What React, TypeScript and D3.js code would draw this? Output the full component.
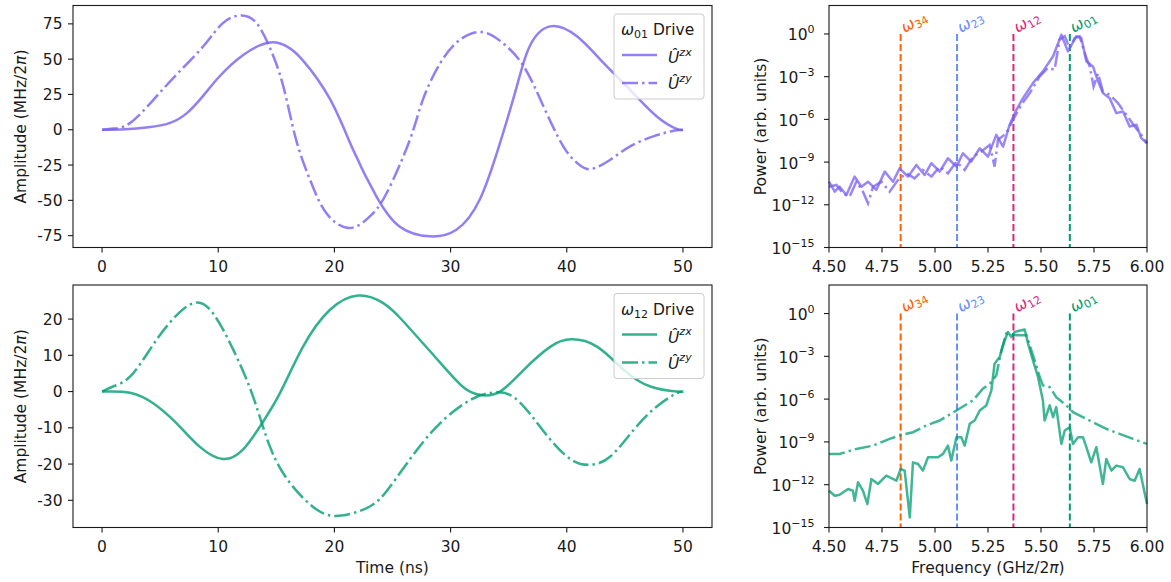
import React from 'react';
import * as d3 from 'd3';

// ---------- tick values ----------
const TIME_TICKS = [0, 10, 20, 30, 40, 50];
const AMP01_TICKS = [-75, -50, -25, 0, 25, 50, 75];
const AMP12_TICKS = [-30, -20, -10, 0, 10, 20];
const FREQ_TICKS = [4.5, 4.75, 5.0, 5.25, 5.5, 5.75, 6.0];
const POW_EXP_TICKS = [0, -3, -6, -9, -12, -15];

// ---------- ω01 drive (time domain) ----------
const t01zx = [0, 2, 4, 5.8, 7.3, 8.7, 10.1, 12.15, 14.45, 16, 17.3, 19.6, 21.6, 23.6, 25.6, 28.2, 30.5, 32.5, 34.25, 35.7, 36.8, 38.56, 40.9, 43.2, 45.45, 47.75, 49.5, 50];
const v01zx = [0, 0.3, 1.8, 4.7, 11.8, 24, 37.7, 53, 61.8, 58.5, 49, 22, -14, -47, -68.5, -75.5, -70.8, -49.6, -9.4, 30.7, 59, 73.2, 66, 47, 28.3, 9.4, 0.5, 0];
const t01zy = [0, 1, 2.4, 4.4, 6.4, 8.7, 10.4, 12.0, 13.3, 14.45, 15.6, 16.7, 17.9, 19.3, 21.3, 23.05, 24.5, 26.5, 27.6, 29.1, 30.8, 32.7, 34.5, 36.3, 38.0, 39.7, 40.9, 42.0, 43.75, 45.45, 47.45, 49.2, 50];
const v01zy = [0, 0.8, 4.7, 21, 39, 59, 75.5, 81, 75.5, 58, 30.7, -7, -35.4, -59, -69.6, -61.4, -44.8, -7, 21, 47, 63.7, 69.2, 61.4, 44.8, 16.5, -11.8, -23.6, -27.9, -21.2, -11.8, -4.7, -0.7, 0];

// ---------- ω12 drive (time domain) ----------
const t12zx = [0, 2.4, 4.4, 6.4, 8.4, 10.4, 12.1, 13.6, 15.3, 17.3, 19.6, 22.05, 24.2, 25.6, 27.1, 29.4, 31.1, 32.5, 34.25, 36.3, 38.6, 40.4, 42.6, 44.9, 47.2, 49.5, 50];
const v12zx = [0, -0.3, -3.2, -8.7, -15.2, -18.6, -16.1, -9.6, -0.5, 12.4, 22.5, 26.5, 24.4, 20.5, 15.2, 6.9, 1.2, -0.9, 0, 6, 12.4, 14.4, 12.4, 6, 1.4, 0, 0];
const t12zy = [0, 0.95, 2.4, 4.1, 5.8, 7.85, 9.55, 11.3, 13.0, 14.45, 16.2, 18.5, 20.6, 23.05, 24.8, 27.1, 29.4, 31.7, 33.4, 35.1, 36.8, 38.6, 40.4, 42.0, 43.75, 45.75, 47.75, 49.5, 50];
const v12zy = [0, 1.4, 4.1, 11.5, 18.9, 24.4, 21.6, 11.5, -1.4, -15.2, -25.3, -32.6, -34.2, -31.7, -26.2, -16.1, -7.8, -2.3, -0.4, -0.9, -6, -13.3, -18.8, -20.2, -17.9, -10.6, -4.1, -0.4, 0];

// ---------- spectra (log10 power) ----------
const f01zx = [4.500, 4.527, 4.550, 4.582, 4.621, 4.653, 4.684, 4.723, 4.763, 4.802, 4.833, 4.873, 4.912, 4.951, 4.983, 5.022, 5.061, 5.101, 5.132, 5.171, 5.211, 5.250, 5.289, 5.321, 5.352, 5.384, 5.415, 5.462, 5.509, 5.557, 5.596, 5.627, 5.667, 5.690, 5.714, 5.745, 5.769, 5.792, 5.824, 5.855, 5.887, 5.918, 5.950, 5.973, 6.000];
const p01zx = [-10.38, -11.08, -10.73, -11.31, -10.02, -10.73, -10.38, -10.96, -9.67, -10.38, -9.44, -10.02, -9.20, -9.91, -9.08, -9.67, -8.73, -9.32, -8.38, -8.97, -8.03, -8.62, -7.09, -7.91, -6.38, -5.33, -4.51, -3.45, -2.63, -1.57, -0.05, -1.22, -0.16, -0.28, -1.92, -2.28, -3.33, -4.15, -4.51, -5.56, -5.45, -6.50, -6.38, -7.32, -7.68];
const f01zy = [4.500, 4.535, 4.566, 4.597, 4.629, 4.660, 4.684, 4.708, 4.747, 4.786, 4.825, 4.865, 4.904, 4.943, 4.983, 5.022, 5.061, 5.101, 5.140, 5.179, 5.219, 5.258, 5.281, 5.297, 5.336, 5.368, 5.407, 5.447, 5.494, 5.533, 5.564, 5.588, 5.612, 5.635, 5.659, 5.682, 5.714, 5.730, 5.748, 5.769, 5.792, 5.824, 5.863, 5.903, 5.942, 5.973, 6.000];
const p01zy = [-10.73, -10.61, -11.20, -11.43, -10.38, -11.08, -11.90, -10.73, -10.38, -11.08, -10.26, -9.79, -10.14, -9.55, -10.02, -9.32, -9.79, -8.97, -9.55, -8.62, -8.26, -7.79, -9.32, -7.44, -6.97, -6.03, -4.98, -4.15, -2.98, -2.39, -2.51, -0.40, -0.16, -0.99, -0.28, -0.16, -1.69, -2.28, -3.69, -2.77, -4.04, -4.27, -4.86, -5.68, -6.50, -7.09, -7.68];

const f12zx = [4.500, 4.527, 4.550, 4.590, 4.613, 4.621, 4.637, 4.660, 4.681, 4.700, 4.731, 4.770, 4.818, 4.838, 4.857, 4.881, 4.896, 4.920, 4.943, 4.967, 5.014, 5.038, 5.061, 5.077, 5.101, 5.124, 5.140, 5.164, 5.187, 5.211, 5.242, 5.266, 5.281, 5.305, 5.329, 5.344, 5.360, 5.376, 5.407, 5.423, 5.439, 5.462, 5.486, 5.509, 5.517, 5.541, 5.557, 5.572, 5.596, 5.612, 5.635, 5.651, 5.675, 5.698, 5.714, 5.737, 5.761, 5.792, 5.808, 5.832, 5.855, 5.887, 5.918, 5.942, 5.965, 6.000];
const p12zx = [-12.42, -12.77, -12.70, -12.30, -12.42, -13.12, -11.83, -12.42, -13.36, -11.60, -11.95, -11.37, -11.72, -10.90, -11.01, -14.30, -10.43, -10.55, -11.01, -10.08, -10.08, -9.84, -9.26, -10.31, -8.67, -8.67, -9.26, -7.73, -7.50, -6.80, -6.44, -5.39, -3.52, -3.05, -1.87, -1.29, -1.64, -1.29, -1.17, -1.12, -2.11, -3.28, -4.45, -6.09, -7.50, -6.44, -7.27, -6.56, -9.14, -8.20, -7.97, -9.14, -8.67, -8.67, -9.37, -10.43, -9.37, -11.95, -10.19, -11.01, -10.66, -10.78, -11.60, -11.72, -10.90, -13.36];
const f12zy = [4.500, 4.550, 4.629, 4.708, 4.786, 4.833, 4.896, 4.959, 5.022, 5.101, 5.179, 5.226, 5.258, 5.289, 5.313, 5.336, 5.384, 5.431, 5.470, 5.494, 5.509, 5.541, 5.572, 5.619, 5.651, 5.730, 5.808, 5.871, 5.934, 6.000];
const p12zy = [-9.84, -9.84, -9.49, -9.26, -8.79, -8.55, -8.32, -7.85, -7.50, -6.80, -6.09, -5.27, -4.92, -4.34, -2.58, -1.41, -1.52, -1.52, -3.28, -4.45, -5.04, -5.16, -5.86, -6.44, -6.91, -7.50, -8.09, -8.44, -8.79, -9.14];

// ---------- transition frequencies ----------
const TRANS_NAMES = ['34', '23', '12', '01'];
const TRANS_FREQS = [4.838, 5.104, 5.370, 5.636];
const TRANS_COLORS = ['#FE6100', '#648FFF', '#DC267F', '#009E73'];

const PURPLE = '#785EF0';
const GREEN = '#009E73';

const FONT = '"DejaVu Sans", sans-serif';
const FS = 15.5;
const SFS = 11;
const INK = '#1a1a1a';

const LX0 = 73, LX1 = 712, RX0 = 829, RX1 = 1147;
const TOP = [5.5, 247.5];
const BOT = [285, 527.5];

function zip(xs: number[], ys: number[]) {
  return xs.map((x, i) => [x, ys[i]] as [number, number]);
}

const DASHDOT = '16 4 2.5 4';

function Spines({ x0, x1, y0, y1 }: any) {
  return <rect x={x0} y={y0} width={x1 - x0} height={y1 - y0} fill="none" stroke={INK} strokeWidth={1.1} />;
}

function XTicks({ scale, ticks, y, fmt }: any) {
  return (
    <g>
      {ticks.map((t: number) => (
        <g key={t}>
          <line x1={scale(t)} x2={scale(t)} y1={y} y2={y + 5} stroke={INK} strokeWidth={1.1} />
          <text x={scale(t)} y={y + 24.5} textAnchor="middle" fontFamily={FONT} fontSize={FS} fill={INK}>{fmt(t)}</text>
        </g>
      ))}
    </g>
  );
}

function YTicks({ scale, ticks, x }: any) {
  return (
    <g>
      {ticks.map((t: number) => (
        <g key={t}>
          <line x1={x - 5} x2={x} y1={scale(t)} y2={scale(t)} stroke={INK} strokeWidth={1.1} />
          <text x={x - 10.5} y={scale(t)} dy="0.36em" textAnchor="end" fontFamily={FONT} fontSize={FS} fill={INK}>{String(t)}</text>
        </g>
      ))}
    </g>
  );
}

function LogYTicks({ scale, exps, x }: any) {
  return (
    <g>
      {exps.map((e: number) => {
        const y = scale(Math.pow(10, e));
        return (
          <g key={e}>
            <line x1={x - 5} x2={x} y1={y} y2={y} stroke={INK} strokeWidth={1.1} />
            <text x={x - 14.5} y={y + 6.5} textAnchor="end" fontFamily={FONT} fontSize={FS} fill={INK}>
              10<tspan fontSize={SFS} dy={-7.5}>{e === 0 ? '0' : '\u2212' + Math.abs(e)}</tspan>
            </text>
          </g>
        );
      })}
    </g>
  );
}

function Legend({ x, y, color, sub }: any) {
  return (
    <g fontFamily={FONT}>
      <rect x={x} y={y} width={90} height={85} rx={3} fill="#fff" fillOpacity={0.8} stroke="#ccc" strokeWidth={1} />
      <text x={x + 7} y={y + 21} fontSize={FS} fill={INK}>
        <tspan fontStyle="italic">ω</tspan><tspan fontSize={SFS} dy={3}>{sub}</tspan><tspan dy={-3}> Drive</tspan>
      </text>
      <line x1={x + 8} x2={x + 43} y1={y + 41} y2={y + 41} stroke={color} strokeOpacity={0.8} strokeWidth={2.5} />
      <text x={x + 54} y={y + 49} fontSize={FS} fill={INK}>
        <tspan fontStyle="italic">Û</tspan><tspan fontStyle="italic" fontSize={SFS} dy={-7.5}>zx</tspan>
      </text>
      <line x1={x + 8} x2={x + 43} y1={y + 69} y2={y + 69} stroke={color} strokeOpacity={0.8} strokeWidth={2.5} strokeDasharray={DASHDOT} />
      <text x={x + 54} y={y + 75} fontSize={FS} fill={INK}>
        <tspan fontStyle="italic">Û</tspan><tspan fontStyle="italic" fontSize={SFS} dy={-7.5}>zy</tspan>
      </text>
    </g>
  );
}

function TimePanel({ yr, domain, ticks, color, zx, zy, sub, xlabel }: any) {
  const x = d3.scaleLinear().domain([-2.5, 52.5]).range([LX0, LX1]);
  const y = d3.scaleLinear().domain(domain).range([yr[1], yr[0]]);
  const line = d3.line<[number, number]>().x(d => x(d[0])).y(d => y(d[1])).curve(d3.curveNatural);
  const midY = (yr[0] + yr[1]) / 2;
  return (
    <g>
      <path d={line(zx) || ''} fill="none" stroke={color} strokeOpacity={0.8} strokeWidth={2.5} />
      <path d={line(zy) || ''} fill="none" stroke={color} strokeOpacity={0.8} strokeWidth={2.5} strokeDasharray={DASHDOT} />
      <Spines x0={LX0} x1={LX1} y0={yr[0]} y1={yr[1]} />
      <XTicks scale={x} ticks={TIME_TICKS} y={yr[1]} fmt={(t: number) => String(t)} />
      <YTicks scale={y} ticks={ticks} x={LX0} />
      <text transform={`translate(25.5,${midY}) rotate(-90)`} textAnchor="middle" fontFamily={FONT} fontSize={FS} fill={INK}>
        Amplitude (MHz/2<tspan fontStyle="italic">π</tspan>)
      </text>
      {xlabel && (
        <text x={(LX0 + LX1) / 2} y={yr[1] + 45} textAnchor="middle" fontFamily={FONT} fontSize={FS} fill={INK}>Time (ns)</text>
      )}
      <Legend x={614} y={yr[0] + 8.5} color={color} sub={sub} />
    </g>
  );
}

function SpecPanel({ yr, color, zx, zy, xlabel }: any) {
  const x = d3.scaleLinear().domain([4.5, 6.0]).range([RX0, RX1]);
  const y = d3.scaleLog().domain([1e-15, 1e2]).range([yr[1], yr[0]]);
  const line = d3.line<[number, number]>().x(d => x(d[0])).y(d => y(Math.pow(10, d[1])));
  const midY = (yr[0] + yr[1]) / 2;
  const y0 = y(1);
  return (
    <g>
      {TRANS_FREQS.map((f, i) => (
        <g key={i}>
          <line x1={x(f)} x2={x(f)} y1={y0} y2={yr[1]} stroke={TRANS_COLORS[i]} strokeWidth={2} strokeDasharray="7 3" />
          <text transform={`translate(${x(f) + 4},${y0 - 1}) rotate(-30)`} fontFamily={FONT} fontSize={FS} fill={TRANS_COLORS[i]}>
            <tspan fontStyle="italic">ω</tspan><tspan fontSize={SFS} dy={3}>{TRANS_NAMES[i]}</tspan>
          </text>
        </g>
      ))}
      <path d={line(zx) || ''} fill="none" stroke={color} strokeOpacity={0.75} strokeWidth={2.5} strokeLinejoin="round" />
      <path d={line(zy) || ''} fill="none" stroke={color} strokeOpacity={0.75} strokeWidth={2.5} strokeDasharray={DASHDOT} />
      <Spines x0={RX0} x1={RX1} y0={yr[0]} y1={yr[1]} />
      <XTicks scale={x} ticks={FREQ_TICKS} y={yr[1]} fmt={(t: number) => t.toFixed(2)} />
      <LogYTicks scale={y} exps={POW_EXP_TICKS} x={RX0} />
      <text transform={`translate(765.5,${midY}) rotate(-90)`} textAnchor="middle" fontFamily={FONT} fontSize={FS} fill={INK}>
        Power (arb. units)
      </text>
      {xlabel && (
        <text x={(RX0 + RX1) / 2} y={yr[1] + 45} textAnchor="middle" fontFamily={FONT} fontSize={FS} fill={INK}>
          Frequency (GHz/2<tspan fontStyle="italic">π</tspan>)
        </text>
      )}
    </g>
  );
}

export default function App() {
  return (
    <svg width={1171} height={582} style={{ position: 'absolute', left: 0, top: 0, background: '#fff' }}>
      <rect x={0} y={0} width={1171} height={582} fill="#fff" />
      <TimePanel yr={TOP} domain={[-83.4, 88]} ticks={AMP01_TICKS} color={PURPLE} zx={zip(t01zx, v01zx)} zy={zip(t01zy, v01zy)} sub="01" xlabel={false} />
      <TimePanel yr={BOT} domain={[-37.5, 29.4]} ticks={AMP12_TICKS} color={GREEN} zx={zip(t12zx, v12zx)} zy={zip(t12zy, v12zy)} sub="12" xlabel={true} />
      <SpecPanel yr={TOP} color={PURPLE} zx={zip(f01zx, p01zx)} zy={zip(f01zy, p01zy)} xlabel={false} />
      <SpecPanel yr={BOT} color={GREEN} zx={zip(f12zx, p12zx)} zy={zip(f12zy, p12zy)} xlabel={true} />
    </svg>
  );
}
